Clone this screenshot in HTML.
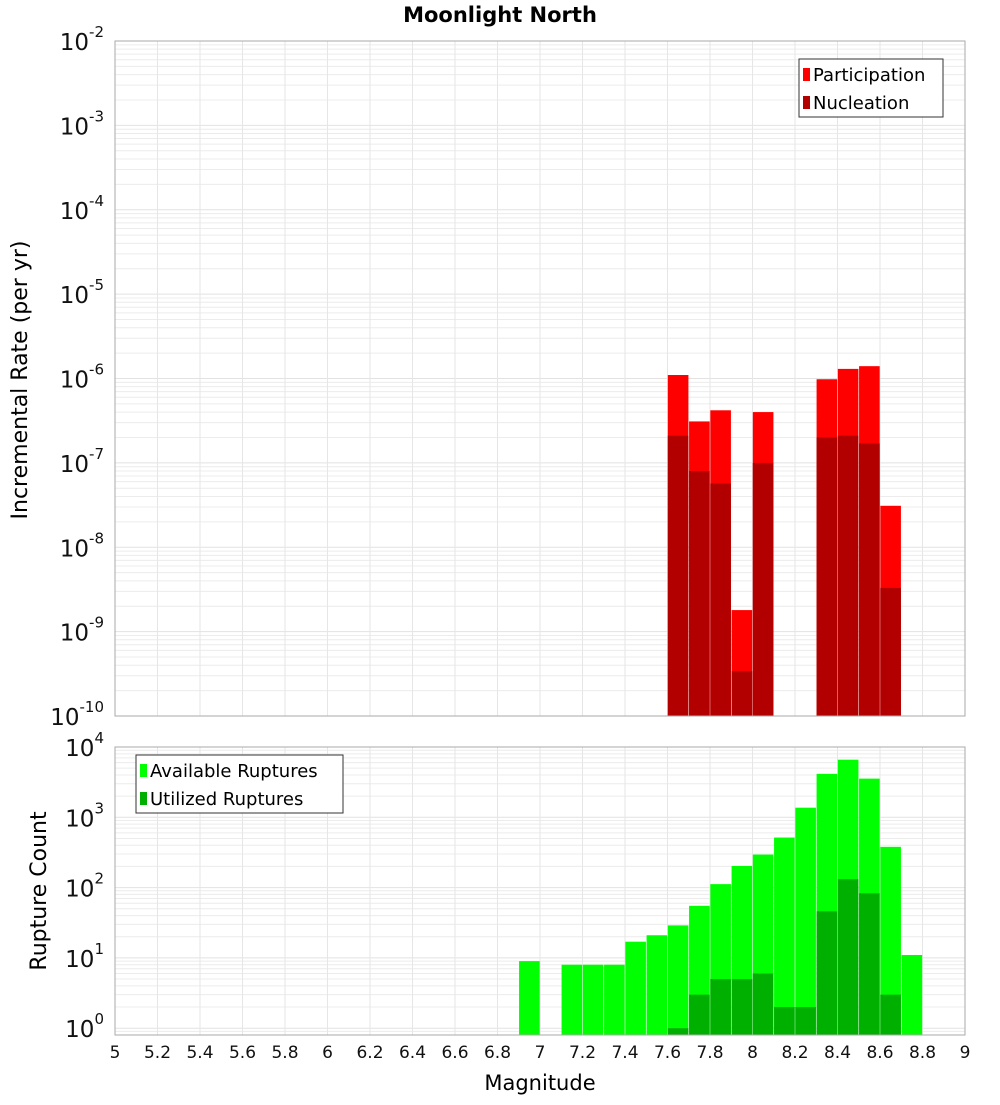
<!DOCTYPE html>
<html><head><meta charset="utf-8"><style>
body{margin:0;background:#fff;font-family:"Liberation Sans","DejaVu Sans",sans-serif}
svg text{font-family:"DejaVu Sans","Liberation Sans",sans-serif}
</style></head><body>
<svg id="c" width="1000" height="1100" xmlns="http://www.w3.org/2000/svg">
<text x="500" y="22" text-anchor="middle" font-size="21" font-weight="bold">Moonlight North</text>
</svg>
<script>
const mags=[7.65,7.75,7.85,7.95,8.05,8.35,8.45,8.55,8.65];
const participation=[1.1e-6,3.1e-7,4.2e-7,1.8e-9,4e-7,9.8e-7,1.3e-6,1.4e-6,3.1e-8];
const nucleation=[2.1e-7,8e-8,5.7e-8,3.4e-10,1e-7,2e-7,2.1e-7,1.7e-7,3.3e-9];
const countMags=[6.95,7.15,7.25,7.35,7.45,7.55,7.65,7.75,7.85,7.95,8.05,8.15,8.25,8.35,8.45,8.55,8.65,8.75];
const available=[9,8,8,8,17,21,29,55,112,203,295,515,1370,4150,6600,3550,380,11];
const utilMags=[7.65,7.75,7.85,7.95,8.05,8.15,8.25,8.35,8.45,8.55,8.65];
const utilized=[1,3,5,5,6,2,2,46,132,83,3];
const xTicks=[5,5.2,5.4,5.6,5.8,6,6.2,6.4,6.6,6.8,7,7.2,7.4,7.6,7.8,8,8.2,8.4,8.6,8.8,9];
const topExps=[-10,-9,-8,-7,-6,-5,-4,-3,-2];
const botExps=[0,1,2,3,4];

const svg=document.getElementById('c');const NS='http://www.w3.org/2000/svg';
function mk(t,a,p){const e=document.createElementNS(NS,t);for(const k in a)e.setAttribute(k,a[k]);(p||svg).appendChild(e);return e;}
const X0=115,X1=965;
const x=m=>X0+(m-5)/4*(X1-X0);
const T={top:41,bot:716,lo:-10,hi:-2};
const B={top:747,bot:1035,lo:Math.log10(0.8),hi:4};
const yT=v=>T.bot-(Math.log10(v)-T.lo)/(T.hi-T.lo)*(T.bot-T.top);
const yB=v=>B.bot-(Math.log10(v)-B.lo)/(B.hi-B.lo)*(B.bot-B.top);

function grid(P,yf,lo,hi){
  const g=mk('g',{});
  
  
  for(let d=Math.floor(lo);d<hi;d++)for(let k=1;k<10;k++){const v=k*Math.pow(10,d);const y=yf(v);if(y<P.top||y>P.bot)continue;mk('line',{x1:X0,x2:X1,y1:y,y2:y,stroke:k==1?'#e2e2e2':'#ececec','stroke-width':1},g);}
  xTicks.forEach(t=>{mk('line',{x1:x(t),x2:x(t),y1:P.top,y2:P.bot,stroke:'#e6e6e6','stroke-width':1},g);});
}
grid(T,yT,-10,-2);grid(B,yB,-1,4);

function bar(m,v,yf,P,col,name){
  const y=yf(v);
  const r=mk('rect',{x:x(m)-10.3,y:y,width:20.6,height:P.bot-y,fill:col});
  
  
}
mags.forEach((m,i)=>bar(m,participation[i],yT,T,'#ff0000','participation-bar'));
mags.forEach((m,i)=>bar(m,nucleation[i],yT,T,'#b20000','nucleation-bar'));
countMags.forEach((m,i)=>bar(m,available[i],yB,B,'#00ff00','available-bar'));
utilMags.forEach((m,i)=>bar(m,utilized[i],yB,B,'#00b000','utilized-bar'));

mk('rect',{x:X0,y:T.top,width:X1-X0,height:T.bot-T.top,fill:'none',stroke:'#aaa'});
mk('rect',{x:X0,y:B.top,width:X1-X0,height:B.bot-B.top,fill:'none',stroke:'#aaa'});

function ylab(P,yf,exps,name){
  exps.forEach(e=>{const y=yf(Math.pow(10,e));
    const t=mk('text',{x:104,y:y+9,'text-anchor':'end','font-size':23,fill:'#111'});
    
    
    t.appendChild(document.createTextNode('10'));
    const s=mk('tspan',{dy:-13,'font-size':15},t);s.textContent=String(e);
  });
}
ylab(T,yT,topExps,'y-tick-label-rate');ylab(B,yB,botExps,'y-tick-label-count');
xTicks.forEach(t=>{const e=mk('text',{x:x(t),y:1058,'text-anchor':'middle','font-size':17,fill:'#111'});
  
  
  e.textContent=String(t);});
let e=mk('text',{x:540,y:1090,'text-anchor':'middle','font-size':21});


e.textContent='Magnitude';
e=mk('text',{x:0,y:0,'text-anchor':'middle','font-size':22,transform:'translate(27,380) rotate(-90)'});


e.textContent='Incremental Rate (per yr)';
e=mk('text',{x:0,y:0,'text-anchor':'middle','font-size':22,transform:'translate(46,891) rotate(-90)'});


e.textContent='Rupture Count';

function legend(lx,ly,w,items,name){
  const g=mk('g',{});
  
  
  mk('rect',{x:lx,y:ly,width:w,height:58,fill:'#fff',stroke:'#333'},g);
  items.forEach((it,i)=>{
    mk('rect',{x:lx+4,y:ly+9+i*28,width:7,height:13,fill:it[1]},g);
    const t=mk('text',{x:lx+14,y:ly+22+i*28,'font-size':18},g);t.textContent=it[0];
  });
}
legend(799,59,144,[['Participation','#ff0000'],['Nucleation','#b20000']],'legend-rate');
legend(136,755,207,[['Available Ruptures','#00ff00'],['Utilized Ruptures','#00b000']],'legend-count');
</script>
</body></html>
